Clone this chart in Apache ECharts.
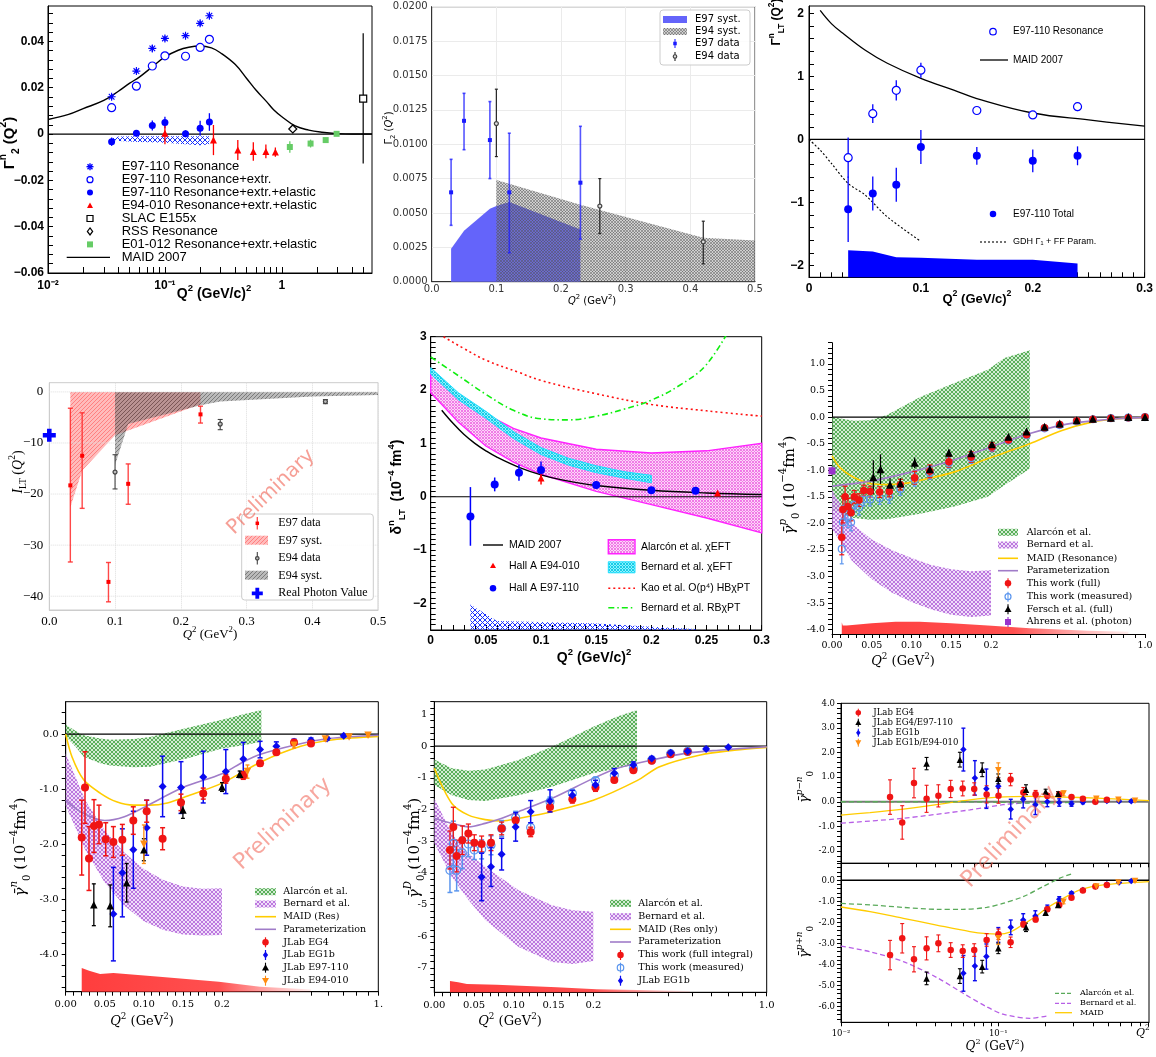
<!DOCTYPE html>
<html>
<head>
<meta charset="UTF-8">
<title>Gamma2 / delta_LT / gamma0 panels</title>
<style>
  html, body { margin: 0; padding: 0; background: #fff; }
  #main { width: 1156px; height: 1057px; }
</style>
</head>
<body>
<div id="main"></div>
<script src="https://cdn.jsdelivr.net/npm/echarts@6.0.0/dist/echarts.min.js"></script>
<script>
// ---------- panel 1 : Gamma_2^n, log Q2 ----------
var p1Q = [0.035, 0.057, 0.078, 0.1, 0.15, 0.2, 0.24];
var p1Res = [0.0161, 0.0272, 0.0370, 0.0413, 0.0425, 0.0478, 0.0511];
var p1ResErr = [0.0012, 0.0010, 0.0015, 0.0012, 0.0010, 0.0012, 0.0012];
var p1Extr = [0.0114, 0.0207, 0.0294, 0.0338, 0.0336, 0.0374, 0.0409];
var p1ExtrErr = [0.0008, 0.0007, 0.0012, 0.0010, 0.0008, 0.0008, 0.0012];
var p1Elas = [-0.0033, 0.0003, 0.0037, 0.0050, 0.0001, 0.0025, 0.0052];
var p1ElasErr = [0.0018, 0.0012, 0.0022, 0.0025, 0.0015, 0.0032, 0.0038];
var p1SysQ = [0.035, 0.04, 0.06, 0.1, 0.15, 0.2, 0.24];
var p1SysHi = [-0.0018, -0.0011, -0.0010, -0.0010, -0.0010, -0.0010, -0.0010];
var p1SysLo = [-0.0022, -0.0030, -0.0034, -0.0038, -0.0044, -0.0048, -0.0044];
var p1E94Q = [0.1, 0.26, 0.42, 0.57, 0.73, 0.88];
var p1E94 = [0.0003, -0.0026, -0.0069, -0.0075, -0.0075, -0.0078];
var p1E94Err = [0.0047, 0.0065, 0.0043, 0.0040, 0.0030, 0.0020];
var p1RssQ = [1.24], p1Rss = [0.0022], p1RssErr = [0.0018];
var p1E01Q = [1.17, 1.76, 2.37, 2.94];
var p1E01 = [-0.0056, -0.0041, -0.0026, 0.0001];
var p1E01Err = [0.0025, 0.0017, 0.0010, 0.0007];
var p1SlacQ = [4.96], p1Slac = [0.0153], p1SlacLo = [-0.0127], p1SlacHi = [0.0435];
var p1MaidQ = [0.01, 0.015, 0.02, 0.03, 0.04, 0.05, 0.06, 0.08, 0.1, 0.13, 0.16, 0.2, 0.25, 0.3, 0.4, 0.5, 0.6, 0.74, 0.85, 1.0, 1.3, 1.7, 2.2, 3.0, 4.0, 5.9];
var p1Maid = [0.0063, 0.0085, 0.0110, 0.0145, 0.0185, 0.0220, 0.0245, 0.0295, 0.0333, 0.0362, 0.0375, 0.0380, 0.0372, 0.0350, 0.0300, 0.0240, 0.0190, 0.0140, 0.0105, 0.0075, 0.0035, 0.0017, 0.0008, 0.0002, 0.0, 0.0];
var p1YTicks = [-0.06, -0.04, -0.02, 0, 0.02, 0.04];
var p1XTicks = [0.01, 0.1, 1];

// ---------- panel 2 : Gamma_2 (E97 / E94) ----------
var p2E97Q = [0.03, 0.05, 0.09, 0.12, 0.23];
var p2E97 = [0.0065, 0.0117, 0.0103, 0.0065, 0.0072];
var p2E97Lo = [0.0041, 0.0096, 0.0075, 0.0021, 0.0031];
var p2E97Hi = [0.0089, 0.0137, 0.0131, 0.0108, 0.0113];
var p2E94Q = [0.1, 0.26, 0.42];
var p2E94 = [0.0115, 0.0055, 0.0029];
var p2E94Lo = [0.0091, 0.0035, 0.0013];
var p2E94Hi = [0.0140, 0.0075, 0.0044];
var p2E97SysQ = [0.03, 0.05, 0.09, 0.1, 0.12, 0.23];
var p2E97SysHi = [0.0024, 0.0037, 0.0053, 0.0055, 0.0058, 0.0038];
var p2E94SysQ = [0.1, 0.23, 0.3, 0.42, 0.5];
var p2E94SysHi = [0.0074, 0.0056, 0.0047, 0.0032, 0.0030];

// ---------- panel 3 : Gamma_LT^n ----------
var p3Q = [0.035, 0.057, 0.078, 0.1, 0.15, 0.2, 0.24];
var p3Res = [-0.29, 0.41, 0.78, 1.10, 0.46, 0.39, 0.52];
var p3ResErr = [0.32, 0.15, 0.16, 0.12, 0.05, 0.05, 0.07];
var p3Tot = [-1.11, -0.86, -0.72, -0.12, -0.26, -0.34, -0.26];
var p3TotErr = [0.52, 0.27, 0.27, 0.27, 0.14, 0.18, 0.15];
var p3MaidQ = [0.01, 0.02, 0.03, 0.05, 0.07, 0.1, 0.13, 0.15, 0.2, 0.25, 0.3];
var p3Maid = [2.05, 1.84, 1.69, 1.42, 1.21, 0.97, 0.78, 0.65, 0.42, 0.31, 0.21];
var p3GdhQ = [0, 0.01, 0.02, 0.035, 0.05, 0.07, 0.1];
var p3Gdh = [0, -0.17, -0.38, -0.70, -0.88, -1.23, -1.62];
var p3SysHi = [-1.76, -1.78, -1.87, -1.88, -1.91, -1.91, -1.97];

// ---------- panel 4 : I_LT ----------
var p4E97Q = [0.032, 0.05, 0.09, 0.12, 0.23];
var p4E97 = [-18.3, -12.5, -37.2, -18.0, -4.4];
var p4E97Lo = [-33.3, -22.8, -41.1, -22.0, -6.1];
var p4E97Hi = [-3.2, -4.1, -33.4, -14.1, -2.8];
var p4E94Q = [0.1, 0.26, 0.42];
var p4E94 = [-15.7, -6.3, -1.9];
var p4E94Lo = [-19.0, -7.4, -2.3];
var p4E94Hi = [-12.3, -5.4, -1.5];
var p4E97SysQ = [0.032, 0.05, 0.1, 0.23];
var p4E97SysLo = [-22.6, -15.4, -8.5, -2.4];
var p4E94SysQ = [0.1, 0.12, 0.23, 0.26, 0.4, 0.5];
var p4E94SysLo = [-14.3, -6.3, -2.6, -1.9, -0.9, -0.6];
var p4PhotonQ = [0.0], p4Photon = [-8.5];
var p4YTicks = [-40, -30, -20, -10, 0];

// ---------- panel 5 : delta_LT^n ----------
var p5E97Q = [0.036, 0.058, 0.08, 0.1, 0.15, 0.2, 0.24];
var p5E97 = [-0.37, 0.23, 0.45, 0.50, 0.22, 0.12, 0.11];
var p5E97Err = [0.55, 0.13, 0.15, 0.16, 0.07, 0.04, 0.04];
var p5E94Q = [0.1, 0.26];
var p5E94 = [0.35, 0.07];
var p5E94Err = [0.12, 0.03];
var p5MaidQ = [0.01, 0.02, 0.03, 0.04, 0.05, 0.06, 0.08, 0.1, 0.12, 0.15, 0.2, 0.25, 0.3];
var p5Maid = [1.62, 1.38, 1.17, 1.0, 0.86, 0.74, 0.55, 0.41, 0.31, 0.21, 0.12, 0.07, 0.04];
var p5AlarQ = [0, 0.025, 0.05, 0.075, 0.1, 0.15, 0.2, 0.25, 0.3];
var p5AlarHi = [2.38, 1.9, 1.55, 1.28, 1.1, 0.89, 0.82, 0.86, 1.0];
var p5AlarLo = [1.95, 1.4, 0.95, 0.65, 0.42, 0.1, -0.15, -0.4, -0.68];
var p5BernQ = [0, 0.025, 0.05, 0.075, 0.1, 0.125, 0.15, 0.175, 0.2];
var p5BernHi = [2.42, 1.95, 1.6, 1.22, 0.92, 0.72, 0.58, 0.47, 0.40];
var p5BernLo = [2.30, 1.82, 1.47, 1.09, 0.79, 0.59, 0.45, 0.35, 0.26];
var p5KaoQ = [0, 0.01, 0.03, 0.05, 0.08, 0.1, 0.15, 0.2, 0.25, 0.3];
var p5Kao = [3.15, 3.02, 2.78, 2.56, 2.33, 2.18, 1.93, 1.73, 1.61, 1.51];
var p5RbQ = [0, 0.025, 0.05, 0.075, 0.1, 0.125, 0.15, 0.175, 0.2, 0.225, 0.25, 0.275];
var p5Rb = [2.62, 2.27, 1.92, 1.62, 1.46, 1.44, 1.51, 1.64, 1.81, 2.08, 2.48, 3.3];
var p5SysQ = [0.036, 0.04, 0.05, 0.06, 0.1, 0.15, 0.2, 0.24];
var p5SysHi = [-2.02, -2.08, -2.2, -2.33, -2.35, -2.38, -2.44, -2.48];

// ---------- panel 6 : gamma0 proton ----------
var p6AlarQ = [0, 0.027, 0.048, 0.069, 0.111, 0.154, 0.196, 0.23, 0.3];
var p6AlarHi = [0.0, -0.07, -0.06, 0.04, 0.38, 0.64, 0.89, 1.11, 1.26];
var p6AlarLo = [-1.75, -1.9, -1.93, -1.92, -1.82, -1.68, -1.5, -1.28, -0.97];
var p6BernQ = [0, 0.025, 0.05, 0.075, 0.1, 0.125, 0.15, 0.175, 0.2];
var p6BernHi = [-1.37, -2.0, -2.3, -2.5, -2.65, -2.78, -2.86, -2.9, -2.88];
var p6BernLo = [-2.1, -2.7, -3.05, -3.3, -3.48, -3.62, -3.72, -3.76, -3.73];
var p6MaidQ = [0, 0.01, 0.027, 0.048, 0.069, 0.09, 0.111, 0.154, 0.196, 0.25, 0.3, 0.42, 0.58, 0.75, 1.0];
var p6Maid = [-0.73, -0.95, -1.13, -1.25, -1.27, -1.25, -1.19, -1.03, -0.78, -0.62, -0.5, -0.25, -0.09, -0.03, -0.01];
var p6ParQ = [0, 0.05, 0.1, 0.15, 0.2, 0.3, 0.42, 0.58, 0.75, 1.0];
var p6Par = [-1.3, -1.2, -1.03, -0.82, -0.56, -0.31, -0.15, -0.07, -0.03, -0.01];
var p6WorkQ = [0.0123, 0.0137, 0.0165, 0.02, 0.024, 0.028, 0.034, 0.04, 0.048, 0.06, 0.072, 0.086, 0.104, 0.123, 0.147, 0.175, 0.202, 0.24, 0.29, 0.35, 0.41, 0.49, 0.58, 0.70, 0.84, 1.0];
var p6Full = [-2.26, -1.74, -1.5, -1.68, -1.8, -1.5, -1.56, -1.38, -1.4, -1.41, -1.4, -1.27, -1.14, -1.02, -0.84, -0.75, -0.56, -0.43, -0.33, -0.2, -0.14, -0.07, -0.04, -0.02, -0.01, 0.0];
var p6FullErr = [0.33, 0.25, 0.2, 0.15, 0.15, 0.12, 0.12, 0.1, 0.1, 0.1, 0.1, 0.1, 0.12, 0.12, 0.1, 0.1, 0.08, 0.05, 0.04, 0.03, 0.02, 0.02, 0.01, 0.01, 0.01, 0.01];
var p6Meas = [-2.48, -1.98, -1.72, -1.9, -1.98, -1.65, -1.7, -1.55, -1.55, -1.52, -1.5, -1.35, -1.18, -1.05, -0.86, -0.77, -0.57, -0.44, -0.34, -0.21, -0.15, -0.08, -0.04, -0.02, -0.01, 0.0];
var p6MeasErr = [0.28, 0.25, 0.2, 0.18, 0.16, 0.14, 0.14, 0.12, 0.12, 0.12, 0.12, 0.12, 0.12, 0.12, 0.1, 0.1, 0.08, 0.05, 0.04, 0.03, 0.02, 0.02, 0.01, 0.01, 0.01, 0.01];
var p6FerQ = [0.052, 0.061, 0.073, 0.086, 0.104, 0.123, 0.147, 0.175, 0.202, 0.24, 0.29, 0.35, 0.41, 0.49, 0.58, 0.70, 0.84, 1.0];
var p6Fer = [-1.13, -0.98, -1.27, -1.25, -0.86, -0.98, -0.67, -0.68, -0.51, -0.37, -0.27, -0.18, -0.12, -0.06, -0.03, -0.01, 0.0, 0.0];
var p6FerErr = [0.32, 0.28, 0.12, 0.1, 0.1, 0.08, 0.06, 0.05, 0.04, 0.03, 0.02, 0.02, 0.01, 0.01, 0.01, 0.01, 0.01, 0.01];
var p6AhrQ = [0.0], p6Ahr = [-1.01], p6AhrErr = [0.08];
var p6BandQ = [0.0123, 0.0135, 0.0186, 0.05, 0.08, 0.11, 0.15, 0.196, 0.3, 0.39, 0.55, 0.84];
var p6BandHi = [-3.86, -3.92, -3.92, -3.88, -3.85, -3.85, -3.88, -3.92, -3.97, -3.99, -4.02, -4.04];
var p6TickQ = [0, 0.05, 0.1, 0.15, 0.2, 1.0];
var p6TickText = ['0.00', '0.05', '0.10', '0.15', '0.2', '1.0'];
var p6YTicks = [-4, -3.5, -3, -2.5, -2, -1.5, -1, -0.5, 0, 0.5, 1];

// ---------- panel 7 : gamma0 neutron ----------
var p7AlarQ = [0, 0.014, 0.023, 0.044, 0.057, 0.087, 0.108, 0.155, 0.2, 0.25, 0.3];
var p7AlarHi = [0.17, 0.05, -0.02, -0.08, -0.1, -0.09, -0.05, 0.11, 0.26, 0.36, 0.44];
var p7AlarLo = [-0.04, -0.25, -0.41, -0.53, -0.57, -0.6, -0.59, -0.44, -0.26, -0.2, -0.14];
var p7BernQ = [0, 0.025, 0.05, 0.075, 0.1, 0.125, 0.15, 0.175, 0.2];
var p7BernHi = [-0.35, -1.2, -1.75, -2.15, -2.45, -2.65, -2.77, -2.81, -2.8];
var p7BernLo = [-1.3, -2.1, -2.7, -3.12, -3.4, -3.56, -3.64, -3.66, -3.65];
var p7MaidQ = [0, 0.008, 0.023, 0.044, 0.065, 0.087, 0.108, 0.13, 0.155, 0.2, 0.3, 0.45, 0.63, 1.0];
var p7Maid = [0.0, -0.41, -0.83, -1.07, -1.23, -1.29, -1.29, -1.25, -1.13, -0.89, -0.5, -0.22, -0.1, -0.04];
var p7ParQ = [0, 0.02, 0.05, 0.075, 0.1, 0.15, 0.2, 0.25, 0.3, 0.42, 0.6, 1.0];
var p7Par = [-1.2, -1.42, -1.57, -1.5, -1.33, -0.97, -0.72, -0.5, -0.36, -0.2, -0.08, -0.02];
var p7Eg4Q = [0.0205, 0.0247, 0.0298, 0.0362, 0.0426, 0.0512, 0.061, 0.0725, 0.0865, 0.1036, 0.124, 0.1475, 0.176, 0.208, 0.249, 0.296, 0.35, 0.42, 0.5];
var p7Eg4 = [-1.88, -0.97, -2.26, -1.67, -1.64, -1.91, -1.96, -1.92, -1.57, -1.4, -1.9, -1.24, -1.08, -0.81, -0.75, -0.53, -0.33, -0.15, -0.17];
var p7Eg4Err = [0.68, 0.65, 0.58, 0.48, 0.35, 0.3, 0.28, 0.28, 0.25, 0.2, 0.2, 0.15, 0.1, 0.08, 0.07, 0.05, 0.04, 0.03, 0.03];
var p7Eg1Q = [0.061, 0.0725, 0.0865, 0.1036, 0.124, 0.1475, 0.176, 0.208, 0.249, 0.296, 0.35, 0.42, 0.5, 0.59, 0.7];
var p7Eg1 = [-3.27, -2.52, -2.1, -1.7, -0.95, -0.97, -0.78, -0.68, -0.45, -0.28, -0.22, -0.14, -0.11, -0.08, -0.03];
var p7Eg1Err = [0.85, 0.8, 0.7, 0.5, 0.55, 0.47, 0.47, 0.4, 0.3, 0.15, 0.08, 0.05, 0.04, 0.03, 0.02];
var p7E97Q = [0.036, 0.057, 0.078, 0.1, 0.15, 0.2, 0.24];
var p7E97 = [-3.1, -3.12, -2.7, -2.1, -1.38, -0.96, -0.73];
var p7E97Err = [0.38, 0.38, 0.35, 0.2, 0.15, 0.08, 0.06];
var p7E94Q = [0.1, 0.26, 0.42, 0.58, 0.74, 0.9];
var p7E94 = [-2.0, -0.68, -0.2, -0.09, -0.05, -0.02];
var p7E94Err = [0.35, 0.12, 0.05, 0.03, 0.02, 0.02];
var p7BandQ = [0.0205, 0.03, 0.044, 0.061, 0.12, 0.196, 0.296, 0.5];
var p7BandHi = [-4.25, -4.3, -4.36, -4.34, -4.41, -4.5, -4.59, -4.64];
var p7TickText = ['0.00', '0.05', '0.10', '0.15', '0.2', '1.'];
var p7YTicks = [-4, -3, -2, -1, 0];

// ---------- panel 8 : gamma0 deuteron ----------
var p8AlarQ = [0, 0.022, 0.043, 0.064, 0.106, 0.148, 0.2, 0.25, 0.3];
var p8AlarHi = [-0.42, -0.7, -0.78, -0.74, -0.44, -0.02, 0.61, 0.93, 1.14];
var p8AlarLo = [-1.23, -1.55, -1.7, -1.73, -1.55, -1.28, -0.86, -0.7, -0.57];
var p8BernQ = [0, 0.022, 0.043, 0.064, 0.106, 0.148, 0.174, 0.2];
var p8BernHi = [-1.65, -2.76, -3.39, -3.81, -4.55, -5.02, -5.18, -5.23];
var p8BernLo = [-3.07, -4.13, -4.86, -5.49, -6.34, -6.81, -6.88, -6.78];
var p8MaidQ = [0, 0.022, 0.043, 0.064, 0.085, 0.106, 0.148, 0.2, 0.3, 0.37, 0.54, 0.74, 1.0];
var p8Maid = [-0.7, -1.81, -2.18, -2.32, -2.36, -2.28, -2.07, -1.71, -1.09, -0.65, -0.28, -0.13, -0.04];
var p8ParQ = [0, 0.022, 0.043, 0.064, 0.085, 0.106, 0.148, 0.2, 0.25, 0.344, 0.47, 0.64, 1.0];
var p8Par = [-2.28, -2.44, -2.55, -2.44, -2.28, -2.07, -1.65, -1.02, -0.7, -0.44, -0.23, -0.13, -0.02];
var p8WorkQ = [0.0197, 0.0239, 0.0281, 0.0352, 0.0428, 0.0503, 0.0595, 0.0713, 0.0847, 0.1023, 0.1212, 0.1455, 0.1736, 0.204, 0.243, 0.29, 0.344, 0.41, 0.48];
var p8Full = [-3.28, -2.55, -3.47, -2.97, -2.76, -3.05, -3.09, -3.05, -2.6, -2.34, -2.71, -1.92, -1.68, -1.31, -1.07, -0.76, -0.46, -0.26, -0.18];
var p8FullErr = [0.6, 0.62, 0.5, 0.45, 0.3, 0.25, 0.25, 0.25, 0.2, 0.2, 0.15, 0.15, 0.12, 0.12, 0.08, 0.06, 0.05, 0.04, 0.03];
var p8Meas = [-3.92, -3.07, -3.92, -3.37, -3.09, -3.28, -3.26, -3.13, -2.6, -2.26, -2.57, -1.76, -1.49, -1.09, -0.92, -0.7, -0.44, -0.24, -0.17];
var p8MeasErr = [0.7, 0.7, 0.65, 0.5, 0.4, 0.3, 0.3, 0.3, 0.25, 0.2, 0.15, 0.15, 0.12, 0.1, 0.08, 0.06, 0.05, 0.04, 0.03];
var p8Eg1Q = [0.0595, 0.0713, 0.0847, 0.1023, 0.1212, 0.1455, 0.1736, 0.204, 0.243, 0.29, 0.344, 0.41, 0.48, 0.57, 0.70];
var p8Eg1 = [-4.13, -3.81, -3.41, -2.55, -2.07, -1.73, -1.55, -1.23, -0.86, -0.6, -0.39, -0.21, -0.16, -0.09, -0.04];
var p8Eg1Err = [0.75, 0.62, 0.5, 0.45, 0.35, 0.35, 0.15, 0.15, 0.15, 0.1, 0.06, 0.05, 0.04, 0.03, 0.02];
var p8BandQ = [0.0197, 0.03, 0.041, 0.0785, 0.154, 0.206, 0.3, 0.49];
var p8BandHi = [-7.41, -7.45, -7.51, -7.53, -7.61, -7.67, -7.7, -7.73];
var p8TickText = ['0.00', '0.05', '0.10', '0.15', '0.2', '1.0'];
var p8YTicks = [-7, -6, -5, -4, -3, -2, -1, 0, 1];

// ---------- panel 9 : gamma0 p-n (top) and p+n (bottom) ----------
var p9Eg4Q = [0.0205, 0.0245, 0.0291, 0.035, 0.0416, 0.0498, 0.0594, 0.0703, 0.0843, 0.1003, 0.1197, 0.1443, 0.1727, 0.205, 0.244, 0.292, 0.345, 0.414, 0.49];
var p9Eg4Diff = [0.19, -0.84, 0.76, 0.12, 0.24, 0.52, 0.54, 0.52, 0.3, 0.24, 0.9, 0.38, 0.31, 0.24, 0.3, 0.19, 0.12, 0.0, 0.08];
var p9Eg4DiffErr = [0.7, 0.68, 0.6, 0.55, 0.45, 0.35, 0.3, 0.25, 0.35, 0.3, 0.25, 0.2, 0.15, 0.1, 0.08, 0.06, 0.05, 0.04, 0.04];
var p9Eg4Sum = [-3.56, -2.76, -3.76, -3.24, -3.0, -3.32, -3.37, -3.32, -2.84, -2.57, -2.95, -2.08, -1.86, -1.38, -1.17, -0.83, -0.48, -0.3, -0.22];
var p9Eg4SumErr = [0.7, 0.7, 0.6, 0.55, 0.4, 0.35, 0.3, 0.3, 0.3, 0.25, 0.25, 0.15, 0.12, 0.1, 0.08, 0.06, 0.05, 0.04, 0.04];
var p9E97Q = [0.035, 0.057, 0.079, 0.1, 0.15, 0.2, 0.24];
var p9E97Diff = [1.55, 1.71, 1.3, 0.93, 0.49, 0.41, 0.33];
var p9E97DiffErr = [0.25, 0.3, 0.28, 0.2, 0.2, 0.1, 0.08];
var p9E97Sum = [-4.67, -4.56, -4.11, -3.24, -2.24, -1.54, -1.17];
var p9E97SumErr = [0.3, 0.35, 0.3, 0.25, 0.2, 0.1, 0.08];
var p9Eg1Q = [0.06, 0.071, 0.084, 0.1, 0.12, 0.144, 0.172, 0.205, 0.244, 0.292, 0.345, 0.414, 0.49, 0.586, 0.70];
var p9Eg1Diff = [2.12, 0.97, 0.53, 0.63, -0.3, 0.1, -0.12, 0.0, -0.03, -0.08, -0.02, -0.01, 0.03, 0.02, 0.02];
var p9Eg1DiffErr = [0.87, 0.7, 0.8, 0.35, 0.4, 0.35, 0.4, 0.2, 0.15, 0.1, 0.06, 0.05, 0.04, 0.03, 0.03];
var p9Eg1Sum = [-4.43, -4.08, -3.63, -2.6, -2.24, -1.89, -1.7, -1.33, -0.9, -0.62, -0.46, -0.3, -0.19, -0.1, -0.03];
var p9Eg1SumErr = [0.85, 0.7, 0.6, 0.35, 0.35, 0.3, 0.25, 0.15, 0.12, 0.08, 0.06, 0.05, 0.04, 0.03, 0.02];
var p9E94Q = [0.1, 0.26, 0.42, 0.58, 0.74];
var p9E94Diff = [1.28, 0.34, 0.12, 0.08, 0.04];
var p9E94DiffErr = [0.3, 0.1, 0.05, 0.04, 0.03];
var p9E94Sum = [-2.76, -1.02, -0.3, -0.1, -0.03];
var p9E94SumErr = [0.3, 0.1, 0.05, 0.04, 0.03];
var p9MaidDiffQ = [0.01, 0.0153, 0.0249, 0.0405, 0.066, 0.1, 0.159, 0.259, 0.42, 0.908];
var p9MaidDiff = [-0.54, -0.44, -0.3, -0.12, 0.08, 0.19, 0.22, 0.19, 0.15, 0.05];
var p9BernDiffQ = [0.01, 0.0249, 0.066, 0.107, 0.144, 0.175];
var p9BernDiff = [-0.87, -0.67, -0.33, -0.12, -0.05, -0.02];
var p9AlarDiffQ = [0.01, 0.05, 0.1, 0.15, 0.2, 0.3];
var p9AlarDiff = [0.0, 0.0, -0.02, -0.05, -0.05, -0.02];
var p9MaidSumQ = [0.01, 0.0153, 0.0249, 0.0405, 0.066, 0.0843, 0.1003, 0.12, 0.144, 0.175, 0.203, 0.259, 0.33, 0.465, 0.908];
var p9MaidSum = [-1.27, -1.49, -1.81, -2.13, -2.44, -2.54, -2.56, -2.45, -2.1, -1.7, -1.33, -0.86, -0.46, -0.22, -0.06];
var p9AlarSumQ = [0.01, 0.0153, 0.0249, 0.0405, 0.0594, 0.0843, 0.107, 0.144, 0.192, 0.246, 0.298];
var p9AlarSum = [-1.1, -1.17, -1.29, -1.38, -1.38, -1.29, -1.1, -0.78, -0.3, 0.1, 0.33];
var p9BernSumQ = [0.01, 0.0153, 0.0249, 0.0405, 0.0598, 0.0843, 0.107, 0.159, 0.203];
var p9BernSum = [-3.13, -3.4, -3.87, -4.62, -5.38, -6.02, -6.37, -6.57, -6.46];
var p9TopTicks = [-2, -1, 0, 1, 2, 3, 4];
var p9BotTicks = [-6, -5, -4, -3, -2, -1, 0];

// ================= helpers =================
var SANS = '"Liberation Sans", Arial, sans-serif';
var DJS = '"DejaVu Sans", sans-serif';
var SERIF = '"DejaVu Serif", serif';
var TIMES = '"Liberation Serif", "Times New Roman", serif';
var MINUS = '\u2212';

var grids = [], xAxes = [], yAxes = [], series = [], elements = [];

function ident(q) { return q; }
function brokenAxis(span) {
  // linear up to 0.2, logarithmic from 0.2 to 1
  return function (q) { return q <= 0.2 ? q : 0.2 + span * Math.log(q / 0.2) / Math.log(5); };
}
var tf6 = brokenAxis(0.1937), tf7 = brokenAxis(0.2), tf8 = brokenAxis(0.218);

function steps(a, b, s) {
  var out = [], n = Math.round((b - a) / s);
  for (var i = 0; i <= n; i++) out.push(Math.round((a + i * s) * 1e6) / 1e6);
  return out;
}
function logTicks(lo, hi) {
  var out = [];
  for (var e = -3; e <= 1; e++) for (var m = 1; m <= 9; m++) {
    var v = m * Math.pow(10, e);
    v = Math.round(v * 1e6) / 1e6;
    if (v >= lo * 0.999 && v <= hi * 1.001) out.push(v);
  }
  return out;
}
function brokenTicks(tf) {
  return steps(0, 0.2, 0.01).concat([0.3, 0.4, 0.5, 0.6, 0.7, 0.8, 0.9, 1.0]).map(tf);
}
function brokenFmt(tf, qs, texts) {
  return function (v) {
    for (var i = 0; i < qs.length; i++) if (Math.abs(tf(qs[i]) - v) < 1e-9) return texts[i];
    return '';
  };
}
function rootFmt(d) {
  return function (v) { return v === 0 ? '0' : (v < 0 ? MINUS : '') + (d == null ? String(Math.abs(v)) : Math.abs(v).toFixed(d)); };
}

function hatch(fg, bg, n, single) {
  var c = document.createElement('canvas');
  c.width = n; c.height = n;
  var x = c.getContext('2d');
  if (bg) { x.fillStyle = bg; x.fillRect(0, 0, n, n); }
  x.strokeStyle = fg; x.lineWidth = 1;
  x.beginPath(); x.moveTo(0, n); x.lineTo(n, 0);
  if (!single) { x.moveTo(0, 0); x.lineTo(n, n); }
  x.stroke();
  return {image: c, repeat: 'repeat'};
}

function axis(o) {
  var a = {
    type: o.log ? 'log' : 'value',
    min: o.min, max: o.max,
    axisLine: {show: o.line !== false, onZero: false, lineStyle: {color: o.lc || '#000', width: 1}},
    axisTick: o.ticks ? {show: true, inside: !!o.inside, length: o.tl || 5, customValues: o.ticks,
      lineStyle: {color: o.lc || '#000', width: 1}} : {show: false},
    axisLabel: {show: o.nolabel ? false : true, customValues: o.labels, formatter: o.fmt, margin: o.margin == null ? 6 : o.margin,
      fontFamily: o.ff, fontSize: o.fs, fontWeight: o.fw || 'normal', color: o.fc || '#000',
      hideOverlap: false, showMinLabel: true, showMaxLabel: true},
    splitLine: {show: !!o.split, lineStyle: o.split || {}}
  };
  if (o.log) a.logBase = 10;
  if (o.interval) a.interval = o.interval;
  return a;
}
function panel(rect, border, xa, ya) {
  var i = grids.length;
  grids.push({left: rect[0], top: rect[1], width: rect[2], height: rect[3], containLabel: false,
    show: !!border, borderColor: border || 'transparent', borderWidth: 1, backgroundColor: 'transparent'});
  xa.gridIndex = i; ya.gridIndex = i;
  xAxes.push(xa); yAxes.push(ya);
  return i;
}

function curve(g, xs, ys, color, width, dash, tf, z, smooth) {
  tf = tf || ident;
  series.push({type: 'line', xAxisIndex: g, yAxisIndex: g, silent: true, animation: false, symbol: 'none',
    smooth: smooth == null ? 0.3 : smooth, z: z || 3,
    lineStyle: {color: color, width: width, type: dash || 'solid'},
    data: xs.map(function (x, i) { return [tf(x), ys[i]]; })});
}
function dots(g, xs, ys, sym, size, color, fill, tf, z, rot) {
  tf = tf || ident;
  series.push({type: 'scatter', xAxisIndex: g, yAxisIndex: g, silent: true, animation: false,
    symbol: sym, symbolSize: size, symbolRotate: rot || 0, z: z || 5,
    itemStyle: {color: fill == null ? color : fill, borderColor: color, borderWidth: fill == null ? 0 : 1.2, opacity: 1},
    data: xs.map(function (x, i) { return [tf(x), ys[i]]; })});
}
function bars(g, xs, lo, hi, color, width, cap, tf, z) {
  tf = tf || ident;
  series.push({type: 'custom', xAxisIndex: g, yAxisIndex: g, silent: true, animation: false, z: z || 4,
    encode: {x: 0, y: [1, 2]},
    data: xs.map(function (x, i) { return [tf(x), lo[i], hi[i]]; }),
    renderItem: function (p, api) {
      var a = api.coord([api.value(0), api.value(1)]), b = api.coord([api.value(0), api.value(2)]);
      var st = {stroke: color, lineWidth: width};
      var kids = [{type: 'line', shape: {x1: a[0], y1: a[1], x2: b[0], y2: b[1]}, style: st}];
      if (cap) {
        kids.push({type: 'line', shape: {x1: a[0] - cap, y1: a[1], x2: a[0] + cap, y2: a[1]}, style: st});
        kids.push({type: 'line', shape: {x1: b[0] - cap, y1: b[1], x2: b[0] + cap, y2: b[1]}, style: st});
      }
      return {type: 'group', children: kids};
    }});
}
function errs(g, xs, ys, es, color, width, cap, tf, z) {
  bars(g, xs, ys.map(function (y, i) { return y - es[i]; }), ys.map(function (y, i) { return y + es[i]; }), color, width, cap, tf, z);
}
function band(g, xs, lo, hi, fill, stroke, lw, tf, z) {
  tf = tf || ident;
  var low = typeof lo === 'number' ? xs.map(function () { return lo; }) : lo;
  series.push({type: 'custom', xAxisIndex: g, yAxisIndex: g, silent: true, animation: false, z: z || 1,
    encode: {x: 0, y: 1},
    data: [[tf(xs[0]), hi[0]]],
    renderItem: function (p, api) {
      var pts = [], i;
      for (i = 0; i < xs.length; i++) pts.push(api.coord([tf(xs[i]), hi[i]]));
      for (i = xs.length - 1; i >= 0; i--) pts.push(api.coord([tf(xs[i]), low[i]]));
      return {type: 'polygon', shape: {points: pts}, style: {fill: fill, stroke: stroke || null, lineWidth: lw || 0}};
    }});
}
function hline(g, x0, x1, y, color, width, dash, z) {
  series.push({type: 'line', xAxisIndex: g, yAxisIndex: g, silent: true, animation: false, symbol: 'none', z: z || 2,
    lineStyle: {color: color, width: width, type: dash || 'solid'}, data: [[x0, y], [x1, y]]});
}

// graphic helpers (legends, axis titles, watermark)
function gText(x, y, s, font, opt) {
  opt = opt || {};
  elements.push({type: 'text', x: x, y: y, rotation: opt.rot || 0, z: 100, silent: true,
    style: {text: s, font: font, fill: opt.color || '#000', align: opt.align || 'left', verticalAlign: 'middle', rich: opt.rich}});
}
function gLine(x1, y1, x2, y2, color, w, dash) {
  elements.push({type: 'line', z: 100, silent: true, shape: {x1: x1, y1: y1, x2: x2, y2: y2},
    style: {stroke: color, lineWidth: w || 1, lineDash: dash || null}});
}
function gBox(x, y, w, h, fill, stroke, lw, r) {
  elements.push({type: 'rect', z: 99, silent: true, shape: {x: x, y: y, width: w, height: h, r: r || 0},
    style: {fill: fill, stroke: stroke || null, lineWidth: lw || 1}});
}
function gMark(kind, x, y, s, color, fill) {
  var r = s / 2, el;
  if (kind === 'circle') el = {type: 'circle', shape: {cx: x, cy: y, r: r}};
  else if (kind === 'rect') el = {type: 'rect', shape: {x: x - r, y: y - r, width: s, height: s}};
  else if (kind === 'tri') el = {type: 'polygon', shape: {points: [[x, y - r], [x + r, y + r * 0.8], [x - r, y + r * 0.8]]}};
  else if (kind === 'itri') el = {type: 'polygon', shape: {points: [[x, y + r], [x + r, y - r * 0.8], [x - r, y - r * 0.8]]}};
  else if (kind === 'diamond') el = {type: 'polygon', shape: {points: [[x, y - r], [x + r * 0.75, y], [x, y + r], [x - r * 0.75, y]]}};
  else if (kind === 'plus') {
    var t = r * 0.35;
    el = {type: 'polygon', shape: {points: [[x - r, y - t], [x - t, y - t], [x - t, y - r], [x + t, y - r], [x + t, y - t], [x + r, y - t],
      [x + r, y + t], [x + t, y + t], [x + t, y + r], [x - t, y + r], [x - t, y + t], [x - r, y + t]]}};
  }
  el.style = {fill: fill == null ? color : fill, stroke: color, lineWidth: fill == null ? 0 : 1.2};
  el.z = 101; el.silent = true;
  elements.push(el);
}
function gStar(x, y, r, color) {
  for (var k = 0; k < 4; k++) {
    var a = k * Math.PI / 4;
    gLine(x - r * Math.cos(a), y - r * Math.sin(a), x + r * Math.cos(a), y + r * Math.sin(a), color, 1.4);
  }
}
function richFor(ff, fs, fw) {
  var sm = Math.round(fs * 0.68 * 10) / 10, lh = Math.round(fs * 1.5), slh = Math.round(sm * 1.1);
  return {
    b: {fontFamily: ff, fontSize: fs, fontWeight: fw, lineHeight: lh, verticalAlign: 'middle'},
    i: {fontFamily: ff, fontSize: fs, fontWeight: fw, fontStyle: 'italic', lineHeight: lh, verticalAlign: 'middle'},
    u: {fontFamily: ff, fontSize: sm, fontWeight: fw, lineHeight: slh, verticalAlign: 'top'},
    ui: {fontFamily: ff, fontSize: sm, fontWeight: fw, fontStyle: 'italic', lineHeight: slh, verticalAlign: 'top'},
    s: {fontFamily: ff, fontSize: sm, fontWeight: fw, lineHeight: slh, verticalAlign: 'bottom'}
  };
}
function title(x, y, rot, s, ff, fs, fw) {
  gText(x, y, s, (fw === 'bold' ? 'bold ' : '') + fs + 'px ' + ff, {rot: rot, align: 'center', rich: richFor(ff, fs, fw || 'normal')});
}
function starPath() {
  var s = '', w = 0.14;
  [0, 45, 90, 135].forEach(function (deg) {
    var r = deg * Math.PI / 180, c = Math.cos(r), d = Math.sin(r), px = -d * w, py = c * w;
    var pts = [[-c + px, -d + py], [c + px, d + py], [c - px, d - py], [-c - px, -d - py]];
    s += 'M' + pts.map(function (p) { return p[0].toFixed(3) + ',' + p[1].toFixed(3); }).join('L') + 'Z';
  });
  return 'path://' + s;
}
var STAR = starPath();
var PLUS = 'path://M-1,-0.35L-0.35,-0.35L-0.35,-1L0.35,-1L0.35,-0.35L1,-0.35L1,0.35L0.35,0.35L0.35,1L-0.35,1L-0.35,0.35L-1,0.35Z';

// fills
var blueHatch = hatch('#1830ff', null, 5);
var pinkHatch = hatch('#f07ae6', '#fcd6f8', 3);
var cyanHatch = hatch('#18cde6', '#8ff1ff', 3);
var greenHatch = hatch('rgba(60,160,60,0.8)', 'rgba(175,220,175,0.55)', 4);
var purpleHatch = hatch('rgba(175,95,215,0.8)', 'rgba(228,195,245,0.55)', 4);
var grayHatch = hatch('rgba(80,80,80,0.45)', 'rgba(120,120,120,0.35)', 3);
var redHatch4 = hatch('rgba(255,80,80,0.55)', 'rgba(255,120,120,0.5)', 4, true);
var grayHatch4 = hatch('rgba(60,60,60,0.5)', 'rgba(90,90,90,0.42)', 4, true);
function redFade() {
  return new echarts.graphic.LinearGradient(0, 0, 1, 0, [
    {offset: 0, color: 'rgba(255,45,45,0.92)'}, {offset: 0.6, color: 'rgba(255,55,55,0.88)'},
    {offset: 1, color: 'rgba(255,90,90,0.12)'}]);
}

var BLUE = '#0000ff', RED = '#ff0000', P_RED = '#f01414', P_BLUE = '#0a0aee', L_BLUE = '#5b96ee',
    ORANGE = '#ff8c10', YELLOW = '#ffcc00', PARAM = '#a07cc8', GREEN_D = '#5aaa5a', PURPLE_D = '#b75fe6';

// ================= panel 1 =================
var g1 = panel([48, 6, 324, 267], '#000',
  axis({log: true, min: 0.01, max: 5.9, labels: p1XTicks, ticks: logTicks(0.01, 5.9), inside: true, tl: 6,
    fmt: function (v) { return v < 0.05 ? '10\u207B\u00B2' : (v < 0.5 ? '10\u207B\u00B9' : '1'); },
    ff: SANS, fs: 12, fw: 'bold', margin: 7}),
  axis({min: -0.06, max: 0.0553, labels: p1YTicks, ticks: steps(-0.06, 0.052, 0.004), inside: true, tl: 5,
    fmt: rootFmt(2), ff: SANS, fs: 12, fw: 'bold', margin: 4}));
hline(g1, 0.01, 5.9, 0, '#000', 1.2);
band(g1, p1SysQ, p1SysLo, p1SysHi, blueHatch, null, 0, null, 1);
curve(g1, p1MaidQ, p1Maid, '#000', 1.4, 'solid', null, 3, 0.4);
errs(g1, p1Q, p1Res, p1ResErr, BLUE, 1.3, 0);
errs(g1, p1Q, p1Extr, p1ExtrErr, BLUE, 1.3, 0);
errs(g1, p1Q, p1Elas, p1ElasErr, BLUE, 1.3, 0);
errs(g1, p1E94Q, p1E94, p1E94Err, RED, 1.3, 0);
errs(g1, p1RssQ, p1Rss, p1RssErr, '#000', 1.2, 0);
errs(g1, p1E01Q, p1E01, p1E01Err, '#66cc66', 1.3, 0);
bars(g1, p1SlacQ, p1SlacLo, p1SlacHi, '#000', 1.2, 0);
dots(g1, p1Q, p1Res, STAR, 8, BLUE);
dots(g1, p1Q, p1Extr, 'circle', 8, BLUE, '#fff');
dots(g1, p1Q, p1Elas, 'circle', 7, BLUE);
dots(g1, p1E94Q, p1E94, 'triangle', 7, RED);
dots(g1, p1RssQ, p1Rss, 'diamond', 8, '#000', '#fff');
dots(g1, p1E01Q, p1E01, 'rect', 6, '#66cc66');
dots(g1, p1SlacQ, p1Slac, 'rect', 7, '#000', '#fff');
title(10, 143, Math.PI / 2, '{b|\u0393}{u|n}{s|2}{b| (Q}{u|2}{b|)}', SANS, 15, 'bold');
title(214, 294, 0, '{b|Q}{u|2}{b| (GeV/c)}{u|2}', SANS, 14, 'bold');
(function () {
  var y0 = 166.7, dy = 12.95, tx = 121.7, f = '13px ' + SANS;
  gStar(90, y0, 3.5, BLUE); gText(tx, y0, 'E97-110 Resonance', f);
  gMark('circle', 90, y0 + dy, 6, BLUE, '#fff'); gText(tx, y0 + dy, 'E97-110 Resonance+extr.', f);
  gMark('circle', 90, y0 + 2 * dy, 6, BLUE); gText(tx, y0 + 2 * dy, 'E97-110 Resonance+extr.+elastic', f);
  gMark('tri', 90, y0 + 3 * dy, 6, RED); gText(tx, y0 + 3 * dy, 'E94-010 Resonance+extr.+elastic', f);
  gMark('rect', 90, y0 + 4 * dy, 6, '#000', '#fff'); gText(tx, y0 + 4 * dy, 'SLAC E155x', f);
  gMark('diamond', 90, y0 + 5 * dy, 7, '#000', '#fff'); gText(tx, y0 + 5 * dy, 'RSS Resonance', f);
  gMark('rect', 90, y0 + 6 * dy, 6, '#66cc66'); gText(tx, y0 + 6 * dy, 'E01-012 Resonance+extr.+elastic', f);
  gLine(66.7, y0 + 7 * dy, 110, y0 + 7 * dy, '#000', 1.4); gText(tx, y0 + 7 * dy, 'MAID 2007', f);
})();

// ================= panel 2 =================
var g2 = panel([431.7, 6.7, 323.3, 275], '#333',
  axis({min: 0, max: 0.5, interval: 0.1, fmt: function (v) { return v.toFixed(1); }, ff: DJS, fs: 10, fc: '#333', margin: 3,
    split: {color: '#ebebeb', width: 1}, lc: '#333'}),
  axis({min: 0, max: 0.02, interval: 0.0025, fmt: function (v) { return v.toFixed(4); }, ff: DJS, fs: 10, fc: '#333', margin: 4,
    split: {color: '#ebebeb', width: 1}, lc: '#333'}));
band(g2, p2E97SysQ, 0, p2E97SysHi, 'rgb(100,100,250)', null, 0, null, 1);
band(g2, p2E94SysQ, 0, p2E94SysHi, grayHatch, null, 0, null, 2);
bars(g2, p2E97Q, p2E97Lo, p2E97Hi, 'rgba(30,30,255,0.75)', 1.6, 1.5);
bars(g2, p2E94Q, p2E94Lo, p2E94Hi, '#222', 1.2, 1.5);
dots(g2, p2E97Q, p2E97, 'rect', 4, '#1a1aff');
dots(g2, p2E94Q, p2E94, 'circle', 4, '#444', '#ddd');
title(389, 128, Math.PI / 2, '{b|\u0393}{s|2}{b| (}{i|Q}{u|2}{b|)}', DJS, 10, 'normal');
title(592, 301, 0, '{i|Q}{u|2}{b| (GeV}{u|2}{b|)}', DJS, 10, 'normal');
(function () {
  var f = '10px ' + DJS, tx = 695;
  gBox(660, 10, 90, 55, 'rgba(255,255,255,0.85)', '#cccccc', 1, 3);
  gBox(663, 16, 24, 7, 'rgb(100,100,250)'); gText(tx, 19.5, 'E97 syst.', f);
  gBox(663, 28, 24, 7, grayHatch); gText(tx, 31.5, 'E94 syst.', f);
  gLine(675, 39, 675, 48, 'rgba(30,30,255,0.75)', 1.4); gMark('rect', 675, 43.5, 3.5, '#1a1aff'); gText(tx, 43.5, 'E97 data', f);
  gLine(675, 52, 675, 61, '#222', 1.1); gMark('circle', 675, 56.5, 3.5, '#444', '#ddd'); gText(tx, 56.5, 'E94 data', f);
})();

// ================= panel 3 =================
var g3 = panel([809, 6, 337, 271.3], '#000',
  axis({min: 0, max: 0.3, labels: [0, 0.1, 0.2, 0.3], ticks: steps(0, 0.3, 0.01), inside: true, tl: 5,
    fmt: function (v) { return v === 0 ? '0' : v.toFixed(1); }, ff: SANS, fs: 12, fw: 'bold', margin: 5}),
  axis({min: -2.19, max: 2.12, labels: [-2, -1, 0, 1, 2], ticks: steps(-2.0, 2.0, 0.2), inside: true, tl: 5,
    fmt: rootFmt(), ff: SANS, fs: 12, fw: 'bold', margin: 5}));
hline(g3, 0, 0.3, 0, '#000', 1.2);
band(g3, p3Q, -2.19, p3SysHi, '#0000ff', null, 0, null, 1);
curve(g3, p3MaidQ, p3Maid, '#000', 1.3, 'solid', null, 3, 0.4);
curve(g3, p3GdhQ, p3Gdh, '#000', 1.1, [2, 2], null, 3, 0.3);
errs(g3, p3Q, p3Res, p3ResErr, BLUE, 1.3, 0);
errs(g3, p3Q, p3Tot, p3TotErr, BLUE, 1.3, 0);
dots(g3, p3Q, p3Res, 'circle', 8, BLUE, '#fff');
dots(g3, p3Q, p3Tot, 'circle', 8, BLUE);
title(777, 22, Math.PI / 2, '{b|\u0393}{u|n}{s|LT}{b| (Q}{u|2}{b|)}', SANS, 12, 'bold');
title(977, 299, 0, '{b|Q}{u|2}{b| (GeV/c)}{u|2}', SANS, 13, 'bold');
(function () {
  var f = '10px ' + SANS, tx = 1013;
  gMark('circle', 993, 31.7, 6.5, BLUE, '#fff'); gText(tx, 31.7, 'E97-110 Resonance', f);
  gLine(980, 60, 1008, 60, '#000', 1.3); gText(tx, 60, 'MAID 2007', f);
  gMark('circle', 993, 214, 6.5, BLUE); gText(tx, 214, 'E97-110 Total', f);
  gLine(980, 242, 1008, 242, '#000', 1.1, [2, 2]); gText(tx, 242, 'GDH \u0393\u2081 + FF Param.', '9px ' + SANS);
})();

// ================= panel 4 =================
var g4 = panel([49.3, 382.7, 328.7, 227.3], '#cccccc',
  axis({min: 0, max: 0.5, interval: 0.1, fmt: function (v) { return v.toFixed(1); }, ff: TIMES, fs: 13, margin: 5,
    split: {color: '#dddddd', type: 'dotted', width: 1}, lc: '#cccccc'}),
  axis({min: -42.7, max: 1.8, labels: p4YTicks, fmt: rootFmt(), ff: TIMES, fs: 13, margin: 6, lc: '#cccccc'}));
p4YTicks.forEach(function (v) { hline(g4, 0, 0.5, v, '#dddddd', 1, 'dotted', 0); });
band(g4, p4E97SysQ, p4E97SysLo, p4E97SysQ.map(function () { return 0; }), redHatch4, null, 0, null, 1);
band(g4, p4E94SysQ, p4E94SysLo, p4E94SysQ.map(function () { return 0; }), grayHatch4, null, 0, null, 2);
bars(g4, p4E97Q, p4E97Lo, p4E97Hi, 'rgba(255,40,40,0.85)', 1.4, 2.5);
bars(g4, p4E94Q, p4E94Lo, p4E94Hi, '#444', 1.1, 2.5);
dots(g4, p4E97Q, p4E97, 'rect', 4, RED);
dots(g4, p4E94Q, p4E94, 'circle', 4, '#444', '#bbb');
dots(g4, p4PhotonQ, p4Photon, PLUS, 13, '#0000ff', null, null, 8);
title(18, 472, Math.PI / 2, '{i|I}{s|LT}{b| (}{i|Q}{u|2}{b|)}', TIMES, 14, 'normal');
title(210, 635, 0, '{i|Q}{u|2}{b| (GeV}{u|2}{b|)}', TIMES, 13, 'normal');
gText(271, 492, 'Preliminary', '20px ' + DJS, {rot: 44 * Math.PI / 180, align: 'center', color: 'rgba(240,95,80,0.6)'});
(function () {
  var f = '12px ' + TIMES, tx = 278.3, sx = 257.3;
  gBox(241.7, 514, 131.6, 86, 'rgba(255,255,255,0.85)', '#cccccc', 1, 3);
  gLine(sx, 517, sx, 529.5, 'rgba(255,40,40,0.85)', 1.3); gMark('rect', sx, 523.3, 3.5, RED); gText(tx, 523.3, 'E97 data', f);
  gBox(245, 535.7, 23, 9, redHatch4); gText(tx, 540.7, 'E97 syst.', f);
  gLine(sx, 552, sx, 564.5, '#444', 1.1); gMark('circle', sx, 558.3, 3.5, '#444', '#bbb'); gText(tx, 558.3, 'E94 data', f);
  gBox(245, 570.7, 23, 9, grayHatch4); gText(tx, 575.7, 'E94 syst.', f);
  gMark('plus', sx, 593.3, 11, '#0000ff'); gText(tx, 593.3, 'Real Photon Value', f);
})();

// ================= panel 5 =================
var g5 = panel([430.7, 336.7, 331, 293.3], '#000',
  axis({min: 0, max: 0.3, labels: [0, 0.05, 0.1, 0.15, 0.2, 0.25, 0.3], ticks: steps(0, 0.3, 0.01), inside: true, tl: 5,
    fmt: function (v) { return v === 0 ? '0' : String(+v.toFixed(2)); }, ff: SANS, fs: 12, fw: 'bold', margin: 5}),
  axis({min: -2.5, max: 3, labels: [-2, -1, 0, 1, 2, 3], ticks: steps(-2.5, 3, 0.1), inside: true, tl: 5,
    fmt: rootFmt(), ff: SANS, fs: 12, fw: 'bold', margin: 4}));
band(g5, p5AlarQ, p5AlarLo, p5AlarHi, pinkHatch, '#ff22ff', 1.4, null, 1);
band(g5, p5BernQ, p5BernLo, p5BernHi, cyanHatch, '#20e0ff', 1, null, 2);
band(g5, p5SysQ, -2.5, p5SysHi, blueHatch, null, 0, null, 1);
hline(g5, 0, 0.3, 0, '#000', 1.1);
curve(g5, p5KaoQ, p5Kao, '#ff1010', 1.6, [2, 3], null, 3, 0.4);
curve(g5, p5RbQ, p5Rb, '#10ee10', 1.6, [6, 3, 1.5, 3], null, 3, 0.4);
curve(g5, p5MaidQ, p5Maid, '#000', 1.4, 'solid', null, 3, 0.4);
errs(g5, p5E97Q, p5E97, p5E97Err, BLUE, 1.5, 0);
errs(g5, p5E94Q, p5E94, p5E94Err, RED, 1.5, 0);
dots(g5, p5E97Q, p5E97, 'circle', 8, BLUE);
dots(g5, p5E94Q, p5E94, 'triangle', 7, RED, null, null, 6);
title(397, 487, Math.PI / 2, '{b|\u03B4}{u|n}{s|LT}{b|  (10}{u|\u22124}{b| fm}{u|4}{b|)}', SANS, 14, 'bold');
title(594, 658, 0, '{b|Q}{u|2}{b| (GeV/c)}{u|2}', SANS, 14, 'bold');
(function () {
  var f = '10.5px ' + SANS;
  gLine(483, 545, 503, 545, '#000', 1.4); gText(509, 545, 'MAID 2007', f);
  gMark('tri', 493, 565.7, 6, RED); gText(509, 565.7, 'Hall A E94-010', f);
  gMark('circle', 493, 588.3, 6.5, BLUE); gText(509, 588.3, 'Hall A E97-110', f);
  gBox(608.3, 539.7, 26.7, 14, pinkHatch, '#ff22ff', 1.4); gText(641, 546.7, 'Alarc\u00F3n et al. \u03C7EFT', f);
  gBox(608.3, 561.8, 26.7, 11, cyanHatch, '#20e0ff', 1); gText(641, 567.3, 'Bernard et al. \u03C7EFT', f);
  gLine(608.3, 588.3, 635, 588.3, '#ff1010', 1.6, [2, 3]); gText(641, 588.3, 'Kao et al. O(p\u2074) HB\u03C7PT', f);
  gLine(608.3, 607.7, 635, 607.7, '#10ee10', 1.6, [6, 3, 1.5, 3]); gText(641, 607.7, 'Bernard et al. RB\u03C7PT', f);
})();

// ================= panel 6 =================
var g6 = panel([832, 342.7, 313, 291.3], null,
  axis({min: 0, max: tf6(1.0), labels: p6TickQ.map(tf6), ticks: brokenTicks(tf6), tl: 4,
    fmt: brokenFmt(tf6, p6TickQ, p6TickText), ff: SERIF, fs: 9.5, margin: 7}),
  axis({min: -4.08, max: 1.4, labels: p6YTicks, ticks: steps(-4.0, 1.4, 0.1), tl: 4,
    fmt: function (v) { return v.toFixed(1); }, ff: SERIF, fs: 9.5, margin: 7}));
band(g6, p6AlarQ, p6AlarLo, p6AlarHi, greenHatch, null, 0, tf6, 1);
band(g6, p6BernQ, p6BernLo, p6BernHi, purpleHatch, null, 0, tf6, 1);
band(g6, p6BandQ, -4.08, p6BandHi, redFade(), null, 0, tf6, 1);
hline(g6, 0, tf6(1.0), 0, '#000', 1.3);
curve(g6, p6MaidQ, p6Maid, YELLOW, 1.6, 'solid', tf6);
curve(g6, p6ParQ, p6Par, PARAM, 1.6, 'solid', tf6);
errs(g6, p6WorkQ, p6Meas, p6MeasErr, L_BLUE, 1.2, 2, tf6, 4);
errs(g6, p6WorkQ, p6Full, p6FullErr, P_RED, 1.2, 2.5, tf6, 5);
errs(g6, p6FerQ, p6Fer, p6FerErr, '#000', 1.2, 0, tf6, 6);
errs(g6, p6AhrQ, p6Ahr, p6AhrErr, '#9933cc', 1.2, 0, tf6, 6);
dots(g6, p6WorkQ, p6Meas, 'circle', 7, L_BLUE, 'rgba(0,0,0,0)', tf6, 5);
dots(g6, p6WorkQ, p6Full, 'circle', 7.5, P_RED, null, tf6, 6);
dots(g6, p6FerQ, p6Fer, 'triangle', 8, '#000', null, tf6, 7);
dots(g6, p6AhrQ, p6Ahr, 'rect', 7, '#9933cc', null, tf6, 7);
title(790, 485, Math.PI / 2, '{i|\u03B3\u0304}{ui|p}{s|0}{b| (10}{u|\u22124}{b|fm}{u|4}{b|)}', SERIF, 15, 'normal');
title(903, 662, 0, '{i|Q}{u|2}{b| (GeV}{u|2}{b|)}', SERIF, 13, 'normal');
(function () {
  var f = '9.5px ' + SERIF, tx = 1026.7, sx = 1008, ys = [532.3, 545, 558.3, 570.7, 583.3, 596.7, 609.3, 622];
  gBox(998, ys[0] - 3.5, 20, 7, greenHatch); gText(tx, ys[0], 'Alarc\u00F3n et al.', f);
  gBox(998, ys[1] - 3.5, 20, 7, purpleHatch); gText(tx, ys[1], 'Bernard et al.', f);
  gLine(998, ys[2], 1018, ys[2], YELLOW, 1.6); gText(tx, ys[2], 'MAID (Resonance)', f);
  gLine(998, ys[3], 1018, ys[3], PARAM, 1.6); gText(tx, ys[3], 'Parameterization', f);
  gLine(sx, ys[4] - 5, sx, ys[4] + 5, P_RED, 1.1); gMark('circle', sx, ys[4], 6.5, P_RED); gText(tx, ys[4], 'This work (full)', f);
  gLine(sx, ys[5] - 5, sx, ys[5] + 5, L_BLUE, 1.1); gMark('circle', sx, ys[5], 6, L_BLUE, 'rgba(0,0,0,0)'); gText(tx, ys[5], 'This work (measured)', f);
  gLine(sx, ys[6] - 5, sx, ys[6] + 5, '#000', 1.1); gMark('tri', sx, ys[6], 7, '#000'); gText(tx, ys[6], 'Fersch et al. (full)', f);
  gLine(sx, ys[7] - 5, sx, ys[7] + 5, '#9933cc', 1.1); gMark('rect', sx, ys[7], 6, '#9933cc'); gText(tx, ys[7], 'Ahrens et al. (photon)', f);
})();

// ================= panel 7 =================
var g7 = panel([65.7, 701.7, 312.6, 290], '#000',
  axis({min: 0, max: tf7(1.0), labels: p6TickQ.map(tf7), ticks: brokenTicks(tf7), tl: 4,
    fmt: brokenFmt(tf7, p6TickQ, p7TickText), ff: SERIF, fs: 10, margin: 8}),
  axis({min: -4.68, max: 0.59, labels: p7YTicks, ticks: steps(-4.6, 0.4, 0.2), tl: 4,
    fmt: function (v) { return v.toFixed(1); }, ff: SERIF, fs: 10, margin: 7}));
band(g7, p7AlarQ, p7AlarLo, p7AlarHi, greenHatch, null, 0, tf7, 1);
band(g7, p7BernQ, p7BernLo, p7BernHi, purpleHatch, null, 0, tf7, 1);
band(g7, p7BandQ, -4.68, p7BandHi, redFade(), null, 0, tf7, 1);
hline(g7, 0, tf7(1.0), 0, '#000', 1.3);
curve(g7, p7MaidQ, p7Maid, YELLOW, 1.6, 'solid', tf7);
curve(g7, p7ParQ, p7Par, PARAM, 1.6, 'solid', tf7);
errs(g7, p7Eg1Q, p7Eg1, p7Eg1Err, P_BLUE, 1.5, 2.5, tf7, 4);
errs(g7, p7Eg4Q, p7Eg4, p7Eg4Err, P_RED, 1.5, 2.5, tf7, 5);
errs(g7, p7E97Q, p7E97, p7E97Err, '#000', 1.3, 2, tf7, 6);
errs(g7, p7E94Q, p7E94, p7E94Err, ORANGE, 1.3, 2, tf7, 6);
dots(g7, p7Eg1Q, p7Eg1, 'diamond', 8, P_BLUE, null, tf7, 5);
dots(g7, p7Eg4Q, p7Eg4, 'circle', 8, P_RED, null, tf7, 6);
dots(g7, p7E97Q, p7E97, 'triangle', 7.5, '#000', null, tf7, 7);
dots(g7, p7E94Q, p7E94, 'triangle', 7.5, ORANGE, null, tf7, 7, 180);
title(21, 847, Math.PI / 2, '{i|\u03B3\u0304}{ui|n}{s|0}{b| (10}{u|\u22124}{b|fm}{u|4}{b|)}', SERIF, 15, 'normal');
title(142, 1022, 0, '{i|Q}{u|2}{b| (GeV}{u|2}{b|)}', SERIF, 13, 'normal');
gText(283, 824, 'Preliminary', '22px ' + DJS, {rot: 43 * Math.PI / 180, align: 'center', color: 'rgba(240,95,80,0.55)'});
(function () {
  var f = '9.5px ' + SERIF, tx = 283.3, sx = 265.5, ys = [891.7, 904, 916.7, 929.3, 942.3, 955, 967.7, 980.7];
  gBox(255, ys[0] - 3.5, 21, 7, greenHatch); gText(tx, ys[0], 'Alarc\u00F3n et al.', f);
  gBox(255, ys[1] - 3.5, 21, 7, purpleHatch); gText(tx, ys[1], 'Bernard et al.', f);
  gLine(255, ys[2], 276, ys[2], YELLOW, 1.6); gText(tx, ys[2], 'MAID (Res)', f);
  gLine(255, ys[3], 276, ys[3], PARAM, 1.6); gText(tx, ys[3], 'Parameterization', f);
  gLine(sx, ys[4] - 5, sx, ys[4] + 5, P_RED, 1.2); gMark('circle', sx, ys[4], 6.5, P_RED); gText(tx, ys[4], 'JLab EG4', f);
  gLine(sx, ys[5] - 5, sx, ys[5] + 5, P_BLUE, 1.2); gMark('diamond', sx, ys[5], 7, P_BLUE); gText(tx, ys[5], 'JLab EG1b', f);
  gLine(sx, ys[6] - 5, sx, ys[6] + 5, '#000', 1.1); gMark('tri', sx, ys[6], 7, '#000'); gText(tx, ys[6], 'JLab E97-110', f);
  gLine(sx, ys[7] - 5, sx, ys[7] + 5, ORANGE, 1.1); gMark('itri', sx, ys[7], 7, ORANGE); gText(tx, ys[7], 'JLab E94-010', f);
})();

// ================= panel 8 =================
var g8 = panel([434.3, 701.7, 332.4, 290.6], '#000',
  axis({min: 0, max: tf8(1.0), labels: p6TickQ.map(tf8), ticks: brokenTicks(tf8), tl: 4,
    fmt: brokenFmt(tf8, p6TickQ, p8TickText), ff: SERIF, fs: 10, margin: 8}),
  axis({min: -7.77, max: 1.4, labels: p8YTicks, ticks: steps(-7.6, 1.4, 0.2), tl: 4,
    fmt: function (v) { return String(v); }, ff: SERIF, fs: 10, margin: 7}));
band(g8, p8AlarQ, p8AlarLo, p8AlarHi, greenHatch, null, 0, tf8, 1);
band(g8, p8BernQ, p8BernLo, p8BernHi, purpleHatch, null, 0, tf8, 1);
band(g8, p8BandQ, -7.77, p8BandHi, redFade(), null, 0, tf8, 1);
hline(g8, 0, tf8(1.0), 0, '#000', 1.3);
curve(g8, p8MaidQ, p8Maid, YELLOW, 1.6, 'solid', tf8);
curve(g8, p8ParQ, p8Par, PARAM, 1.6, 'solid', tf8);
errs(g8, p8WorkQ, p8Meas, p8MeasErr, L_BLUE, 1.5, 2.5, tf8, 4);
errs(g8, p8WorkQ, p8Full, p8FullErr, P_RED, 1.3, 2.5, tf8, 5);
errs(g8, p8Eg1Q, p8Eg1, p8Eg1Err, P_BLUE, 1.5, 2.5, tf8, 6);
dots(g8, p8WorkQ, p8Meas, 'circle', 8, L_BLUE, 'rgba(0,0,0,0)', tf8, 5);
dots(g8, p8WorkQ, p8Full, 'circle', 8, P_RED, null, tf8, 6);
dots(g8, p8Eg1Q, p8Eg1, 'diamond', 8, P_BLUE, null, tf8, 7);
title(415, 848, Math.PI / 2, '{i|\u03B3\u0304}{ui|D}{s|0}{b| (10}{u|\u22124}{b|fm}{u|4}{b|)}', SERIF, 15, 'normal');
title(510, 1022, 0, '{i|Q}{u|2}{b| (GeV}{u|2}{b|)}', SERIF, 13, 'normal');
(function () {
  var f = '9.5px ' + SERIF, tx = 638.3, sx = 620.5, ys = [903.3, 916.7, 929.3, 942, 955, 967.7, 980.7];
  gBox(610, ys[0] - 3.5, 21, 7, greenHatch); gText(tx, ys[0], 'Alarc\u00F3n et al.', f);
  gBox(610, ys[1] - 3.5, 21, 7, purpleHatch); gText(tx, ys[1], 'Bernard et al.', f);
  gLine(610, ys[2], 631, ys[2], YELLOW, 1.6); gText(tx, ys[2], 'MAID (Res only)', f);
  gLine(610, ys[3], 631, ys[3], PARAM, 1.6); gText(tx, ys[3], 'Parameterization', f);
  gLine(sx, ys[4] - 5, sx, ys[4] + 5, P_RED, 1.2); gMark('circle', sx, ys[4], 6.5, P_RED); gText(tx, ys[4], 'This work (full integral)', f);
  gLine(sx, ys[5] - 5, sx, ys[5] + 5, L_BLUE, 1.2); gMark('circle', sx, ys[5], 6.5, L_BLUE, 'rgba(0,0,0,0)'); gText(tx, ys[5], 'This work (measured)', f);
  gLine(sx, ys[6] - 5, sx, ys[6] + 5, P_BLUE, 1.2); gMark('diamond', sx, ys[6], 7, P_BLUE); gText(tx, ys[6], 'JLab EG1b', f);
})();

// ================= panel 9 (two stacked plots) =================
var p9Fmt = function (v) { return v < 0.05 ? '10\u207B\u00B2' : '10\u207B\u00B9'; };
var g9a = panel([841, 703.3, 308, 160], '#000',
  axis({log: true, min: 0.01, max: 0.908, labels: [0.01, 0.1], ticks: logTicks(0.01, 0.908), tl: 4, nolabel: true,
    fmt: p9Fmt, ff: SERIF, fs: 8.5}),
  axis({min: -2.5, max: 4.0, labels: p9TopTicks, ticks: steps(-2.4, 4.0, 0.2), tl: 4,
    fmt: function (v) { return v.toFixed(1); }, ff: SERIF, fs: 8.5, margin: 6}));
var g9b = panel([841, 863.3, 308, 159], '#000',
  axis({log: true, min: 0.01, max: 0.908, labels: [0.01, 0.1], ticks: logTicks(0.01, 0.908), tl: 4,
    fmt: p9Fmt, ff: SERIF, fs: 8.5, margin: 7}),
  axis({min: -6.76, max: 0.81, labels: p9BotTicks, ticks: steps(-6.6, 0.8, 0.2), tl: 4,
    fmt: function (v) { return v.toFixed(1); }, ff: SERIF, fs: 8.5, margin: 6}));
hline(g9a, 0.01, 0.908, 0, '#777', 2);
hline(g9b, 0.01, 0.908, 0, '#000', 1.5);
curve(g9a, p9MaidDiffQ, p9MaidDiff, YELLOW, 1.3, 'solid');
curve(g9a, p9BernDiffQ, p9BernDiff, PURPLE_D, 1.3, [5, 3]);
curve(g9a, p9AlarDiffQ, p9AlarDiff, GREEN_D, 1.3, [5, 3]);
curve(g9b, p9MaidSumQ, p9MaidSum, YELLOW, 1.3, 'solid');
curve(g9b, p9BernSumQ, p9BernSum, PURPLE_D, 1.3, [5, 3]);
curve(g9b, p9AlarSumQ, p9AlarSum, GREEN_D, 1.3, [5, 3]);
errs(g9a, p9Eg1Q, p9Eg1Diff, p9Eg1DiffErr, P_BLUE, 1.4, 2, null, 4);
errs(g9a, p9Eg4Q, p9Eg4Diff, p9Eg4DiffErr, P_RED, 1.1, 2, null, 5);
errs(g9a, p9E97Q, p9E97Diff, p9E97DiffErr, '#000', 1.1, 2, null, 6);
errs(g9a, p9E94Q, p9E94Diff, p9E94DiffErr, ORANGE, 1.1, 2, null, 6);
errs(g9b, p9Eg1Q, p9Eg1Sum, p9Eg1SumErr, P_BLUE, 1.4, 2, null, 4);
errs(g9b, p9Eg4Q, p9Eg4Sum, p9Eg4SumErr, P_RED, 1.1, 2, null, 5);
errs(g9b, p9E97Q, p9E97Sum, p9E97SumErr, '#000', 1.1, 2, null, 6);
errs(g9b, p9E94Q, p9E94Sum, p9E94SumErr, ORANGE, 1.1, 2, null, 6);
[[g9a, p9Eg1Diff, p9Eg4Diff, p9E97Diff, p9E94Diff], [g9b, p9Eg1Sum, p9Eg4Sum, p9E97Sum, p9E94Sum]].forEach(function (s) {
  dots(s[0], p9Eg1Q, s[1], 'diamond', 6.5, P_BLUE, null, null, 5);
  dots(s[0], p9Eg4Q, s[2], 'circle', 6.5, P_RED, null, null, 6);
  dots(s[0], p9E97Q, s[3], 'triangle', 6.5, '#000', null, null, 7);
  dots(s[0], p9E94Q, s[4], 'triangle', 6.5, ORANGE, null, null, 7, 180);
});
title(805, 787, Math.PI / 2, '{i|\u03B3\u0304}{ui|p\u2212n}{s|0}', SERIF, 13, 'normal');
title(805, 942, Math.PI / 2, '{i|\u03B3\u0304}{ui|p+n}{s|0}', SERIF, 13, 'normal');
title(995, 1047, 0, '{i|Q}{u|2}{b| (GeV}{u|2}{b|)}', SERIF, 12, 'normal');
title(1143, 1033, 0, '{i|Q}{u|2}', SERIF, 11, 'normal');
gText(1010, 837, 'Preliminary', '23px ' + DJS, {rot: 47 * Math.PI / 180, align: 'center', color: 'rgba(240,95,80,0.55)'});
(function () {
  var f = '8.5px ' + SERIF, tx = 873.3, sx = 858.3, ys = [712.7, 722.7, 732.7, 742.7];
  gLine(sx, ys[0] - 4, sx, ys[0] + 4, P_RED, 1); gMark('circle', sx, ys[0], 5.5, P_RED); gText(tx, ys[0], 'JLab EG4', f);
  gLine(sx, ys[1] - 4, sx, ys[1] + 4, '#000', 1); gMark('tri', sx, ys[1], 6, '#000'); gText(tx, ys[1], 'JLab EG4/E97-110', f);
  gLine(sx, ys[2] - 4, sx, ys[2] + 4, P_BLUE, 1); gMark('diamond', sx, ys[2], 6, P_BLUE); gText(tx, ys[2], 'JLab EG1b', f);
  gLine(sx, ys[3] - 4, sx, ys[3] + 4, ORANGE, 1); gMark('itri', sx, ys[3], 6, ORANGE); gText(tx, ys[3], 'JLab EG1b/E94-010', f);
  var f2 = '8px ' + SERIF, ys2 = [993.3, 1003.3, 1012.7];
  gLine(1055, ys2[0], 1072, ys2[0], GREEN_D, 1.2, [4, 2]); gText(1080, ys2[0], 'Alarc\u00F3n et al.', f2);
  gLine(1055, ys2[1], 1072, ys2[1], PURPLE_D, 1.2, [4, 2]); gText(1080, ys2[1], 'Bernard et al.', f2);
  gLine(1055, ys2[2], 1072, ys2[2], YELLOW, 1.3); gText(1080, ys2[2], 'MAID', f2);
})();

// ================= render =================
var chart = echarts.init(document.getElementById('main'), null, {renderer: 'canvas'});
chart.setOption({
  animation: false,
  backgroundColor: '#fff',
  grid: grids,
  xAxis: xAxes,
  yAxis: yAxes,
  series: series,
  graphic: {elements: elements}
});
</script>
</body>
</html>
